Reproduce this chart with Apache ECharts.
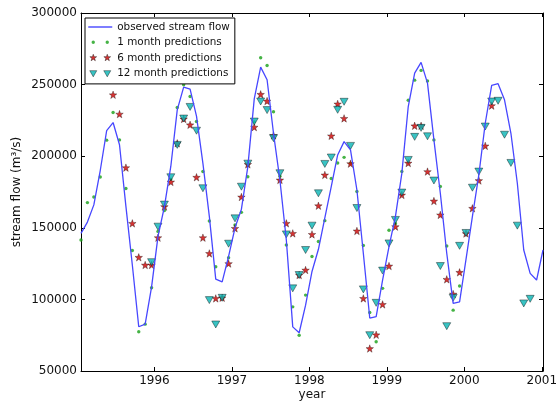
<!DOCTYPE html>
<html><head><meta charset="utf-8">
<script src="https://cdn.jsdelivr.net/npm/echarts@6/dist/echarts.min.js"></script>
<style>html,body{margin:0;padding:0;background:#fff}#c{width:556px;height:403px}</style>
</head><body><div id="c"></div>
<script>
// ---- data ----
const xTickLabels = [1996, 1997, 1998, 1999, 2000, 2001];
const yTickValues = [50000, 100000, 150000, 200000, 250000, 300000];
// monthly time stamps: first month and month length (decimal years)
const X_START = 1995.052;
const X_STEP = 0.08283;
// observed stream flow, one value per month (m0..m72)
const observedFlow = [146100,154000,166000,190000,217900,223500,208000,165000,124000,80900,
  82700,108800,144000,164800,193000,232400,248200,246800,228000,195000,
  158000,114200,112300,130000,150000,163000,192700,240000,262200,253400,
  216000,183400,141500,80800,76700,96000,119500,135000,157000,178800,
  200900,210200,204400,176400,132200,87000,88000,113500,136800,157800,
  188000,234700,258000,265500,251000,211400,174100,132200,97200,98300,
  128000,158000,187000,223000,249400,250600,239400,216000,181100,134500,
  118200,113500,134500];
// 1 month predictions start at month 0
const oneMonthStart = 0;
const oneMonthPred = [141500,167600,171500,185500,211200,230500,211400,177400,134200,77400,
  82700,108100,147500,162000,184000,234000,249900,241700,224200,189300,
  154800,122800,101100,129100,152000,160800,185700,224000,268700,263300,
  231000,186000,138000,94800,75000,103000,130000,140400,155000,184400,
  195300,199200,195000,175300,137600,90800,70400,107700,148300,153000,
  189300,239100,253100,259900,252500,211400,178800,137300,92500,109400];
// 6 month predictions start at month 5
const sixMonthStart = 5;
const sixMonthPred = [242900,229400,192000,153100,129400,124000,124000,143100,164800,182000,
  209000,226000,221900,185300,143100,132100,100700,101100,125000,149600,
  171500,194300,220300,243200,238500,214500,183400,153100,146100,117000,
  120500,145400,165400,186900,214200,236500,226400,194800,147800,100700,
  65700,75300,96500,123300,150800,172900,195200,221200,221200,189250,
  168700,159000,114000,103700,118900,146000,163600,183000,207200,235300];
// 12 month predictions start at month 11
const twelveMonthStart = 11;
const twelveMonthPred = [126000,150800,166200,185300,207900,226300,234400,217800,177600,99500,
  82500,101100,138900,156600,178700,194800,224200,238200,232200,212600,
  188100,145400,107700,117000,134500,151500,174100,194600,199100,232400,
  238000,207200,163800,107000,75000,97600,120100,139100,155500,174600,
  197400,213500,219800,213900,183000,123300,81300,101100,137400,146400,
  178000,189250,220700,238200,238700,215000,195300,151500,97200,100400];

// ---- build chart ----
const X_END = X_START + (observedFlow.length - 1) * X_STEP;
function toPairs(vals, start) { return vals.map((v, i) => [X_START + (start + i) * X_STEP, v]); }

const FONT = 'DejaVu Sans';
const STAR = 'path://M50 8 L60 36.2 L89.9 37 L66.2 55.3 L74.7 84 L50 67 L25.3 84 L33.8 55.3 L10.1 37 L40 36.2 Z';
const TRI_DOWN = 'path://M0 0 L100 0 L50 87 Z';
const ICON_LINE = 'path://M0 0 M240 100 M0 43 L240 43 L240 57 L0 57 Z';
const ICON_DOTS = 'path://M0 0 M240 100 M67 50 A17 17 0 1 1 33 50 A17 17 0 1 1 67 50 Z M207 50 A17 17 0 1 1 173 50 A17 17 0 1 1 207 50 Z';
const ICON_STARS = 'path://M0 0 M240 100 M50 14 L58.5 38 L84 38.7 L63.8 54.2 L71 78.7 L50 64.2 L29 78.7 L36.2 54.2 L16 38.7 L41.5 38 Z M190 14 L198.5 38 L224 38.7 L203.8 54.2 L211 78.7 L190 64.2 L169 78.7 L176.2 54.2 L156 38.7 L181.5 38 Z';
const ICON_TRIS = 'path://M0 0 M240 100 M15 20 L85 20 L50 82 Z M155 20 L225 20 L190 82 Z';

const LINE_C = '#4747ff', GREEN_C = '#16a016', RED_C = '#cc0000', CYAN_C = '#08b4b4';

const axisLineStyle = { color: '#000', width: 1 };
const chart = echarts.init(document.getElementById('c'), null, { renderer: 'canvas' });
chart.setOption({
  animation: false,
  backgroundColor: '#fff',
  grid: { left: 81, right: 13, top: 13, bottom: 32, containLabel: false, outerBoundsMode: 'none' },
  xAxis: [
    { type: 'value', min: X_START, max: X_END, position: 'bottom',
      axisLine: { show: true, onZero: false, lineStyle: axisLineStyle },
      axisTick: { show: true, inside: true, length: 4, customValues: xTickLabels, lineStyle: axisLineStyle },
      axisLabel: { customValues: xTickLabels, fontSize: 12, fontFamily: FONT, color: '#111', margin: 4,
        formatter: v => String(Math.round(v)) },
      splitLine: { show: false },
      name: 'year', nameLocation: 'middle', nameGap: 18, nameMoveOverlap: false,
      nameTextStyle: { fontSize: 12, fontFamily: FONT, color: '#111', verticalAlign: 'top' } },
    { type: 'value', min: X_START, max: X_END, position: 'top',
      axisLine: { show: true, onZero: false, lineStyle: axisLineStyle },
      axisTick: { show: true, inside: true, length: 4, customValues: xTickLabels, lineStyle: axisLineStyle },
      axisLabel: { show: false }, splitLine: { show: false } }
  ],
  yAxis: [
    { type: 'value', min: 50000, max: 300000, interval: 50000, position: 'left',
      axisLine: { show: true, onZero: false, lineStyle: axisLineStyle },
      axisTick: { show: true, inside: true, length: 4, lineStyle: axisLineStyle },
      axisLabel: { fontSize: 12, fontFamily: FONT, color: '#111', margin: 4,
        formatter: v => String(v) },
      splitLine: { show: false },
      name: 'stream flow (m³/s)', nameLocation: 'middle', nameGap: 58, nameRotate: 90, nameMoveOverlap: false,
      nameTextStyle: { fontSize: 12, fontFamily: FONT, color: '#111', verticalAlign: 'bottom' } },
    { type: 'value', min: 50000, max: 300000, interval: 50000, position: 'right',
      axisLine: { show: true, onZero: false, lineStyle: axisLineStyle },
      axisTick: { show: true, inside: true, length: 4, lineStyle: axisLineStyle },
      axisLabel: { show: false }, splitLine: { show: false } }
  ],
  legend: {
    left: 85, top: 18, orient: 'vertical', selectedMode: false,
    padding: [4, 5, 5, 3], itemGap: 5.3, itemWidth: 24, itemHeight: 10,
    backgroundColor: '#fff', borderColor: '#000', borderWidth: 1, borderRadius: 0,
    textStyle: { fontSize: 10.4, fontFamily: FONT, color: '#111', lineHeight: 10 },
    data: [
      { name: 'observed stream flow', icon: ICON_LINE, itemStyle: { color: LINE_C, borderWidth: 0 } },
      { name: '1 month predictions', icon: ICON_DOTS, itemStyle: { borderWidth: 0 } },
      { name: '6 month predictions', icon: ICON_STARS, itemStyle: { borderWidth: 0.5, borderColor: '#000' } },
      { name: '12 month predictions', icon: ICON_TRIS, itemStyle: { borderWidth: 0.5, borderColor: '#000' } }
    ]
  },
  series: [
    { name: 'observed stream flow', type: 'line', data: toPairs(observedFlow, 0),
      xAxisIndex: 0, yAxisIndex: 0, showSymbol: false, symbol: 'none', clip: true,
      lineStyle: { color: LINE_C, width: 1.3 }, itemStyle: { color: LINE_C } },
    { name: '1 month predictions', type: 'scatter', data: toPairs(oneMonthPred, oneMonthStart),
      symbol: 'circle', symbolSize: 3.4, itemStyle: { color: GREEN_C } },
    { name: '6 month predictions', type: 'scatter', data: toPairs(sixMonthPred, sixMonthStart),
      symbol: STAR, symbolSize: 7.5, itemStyle: { color: RED_C, borderColor: '#000', borderWidth: 0.4 } },
    { name: '12 month predictions', type: 'scatter', data: toPairs(twelveMonthPred, twelveMonthStart),
      symbol: TRI_DOWN, symbolSize: [8, 7], itemStyle: { color: CYAN_C, borderColor: '#000', borderWidth: 0.5 } }
  ]
});
</script></body></html>
